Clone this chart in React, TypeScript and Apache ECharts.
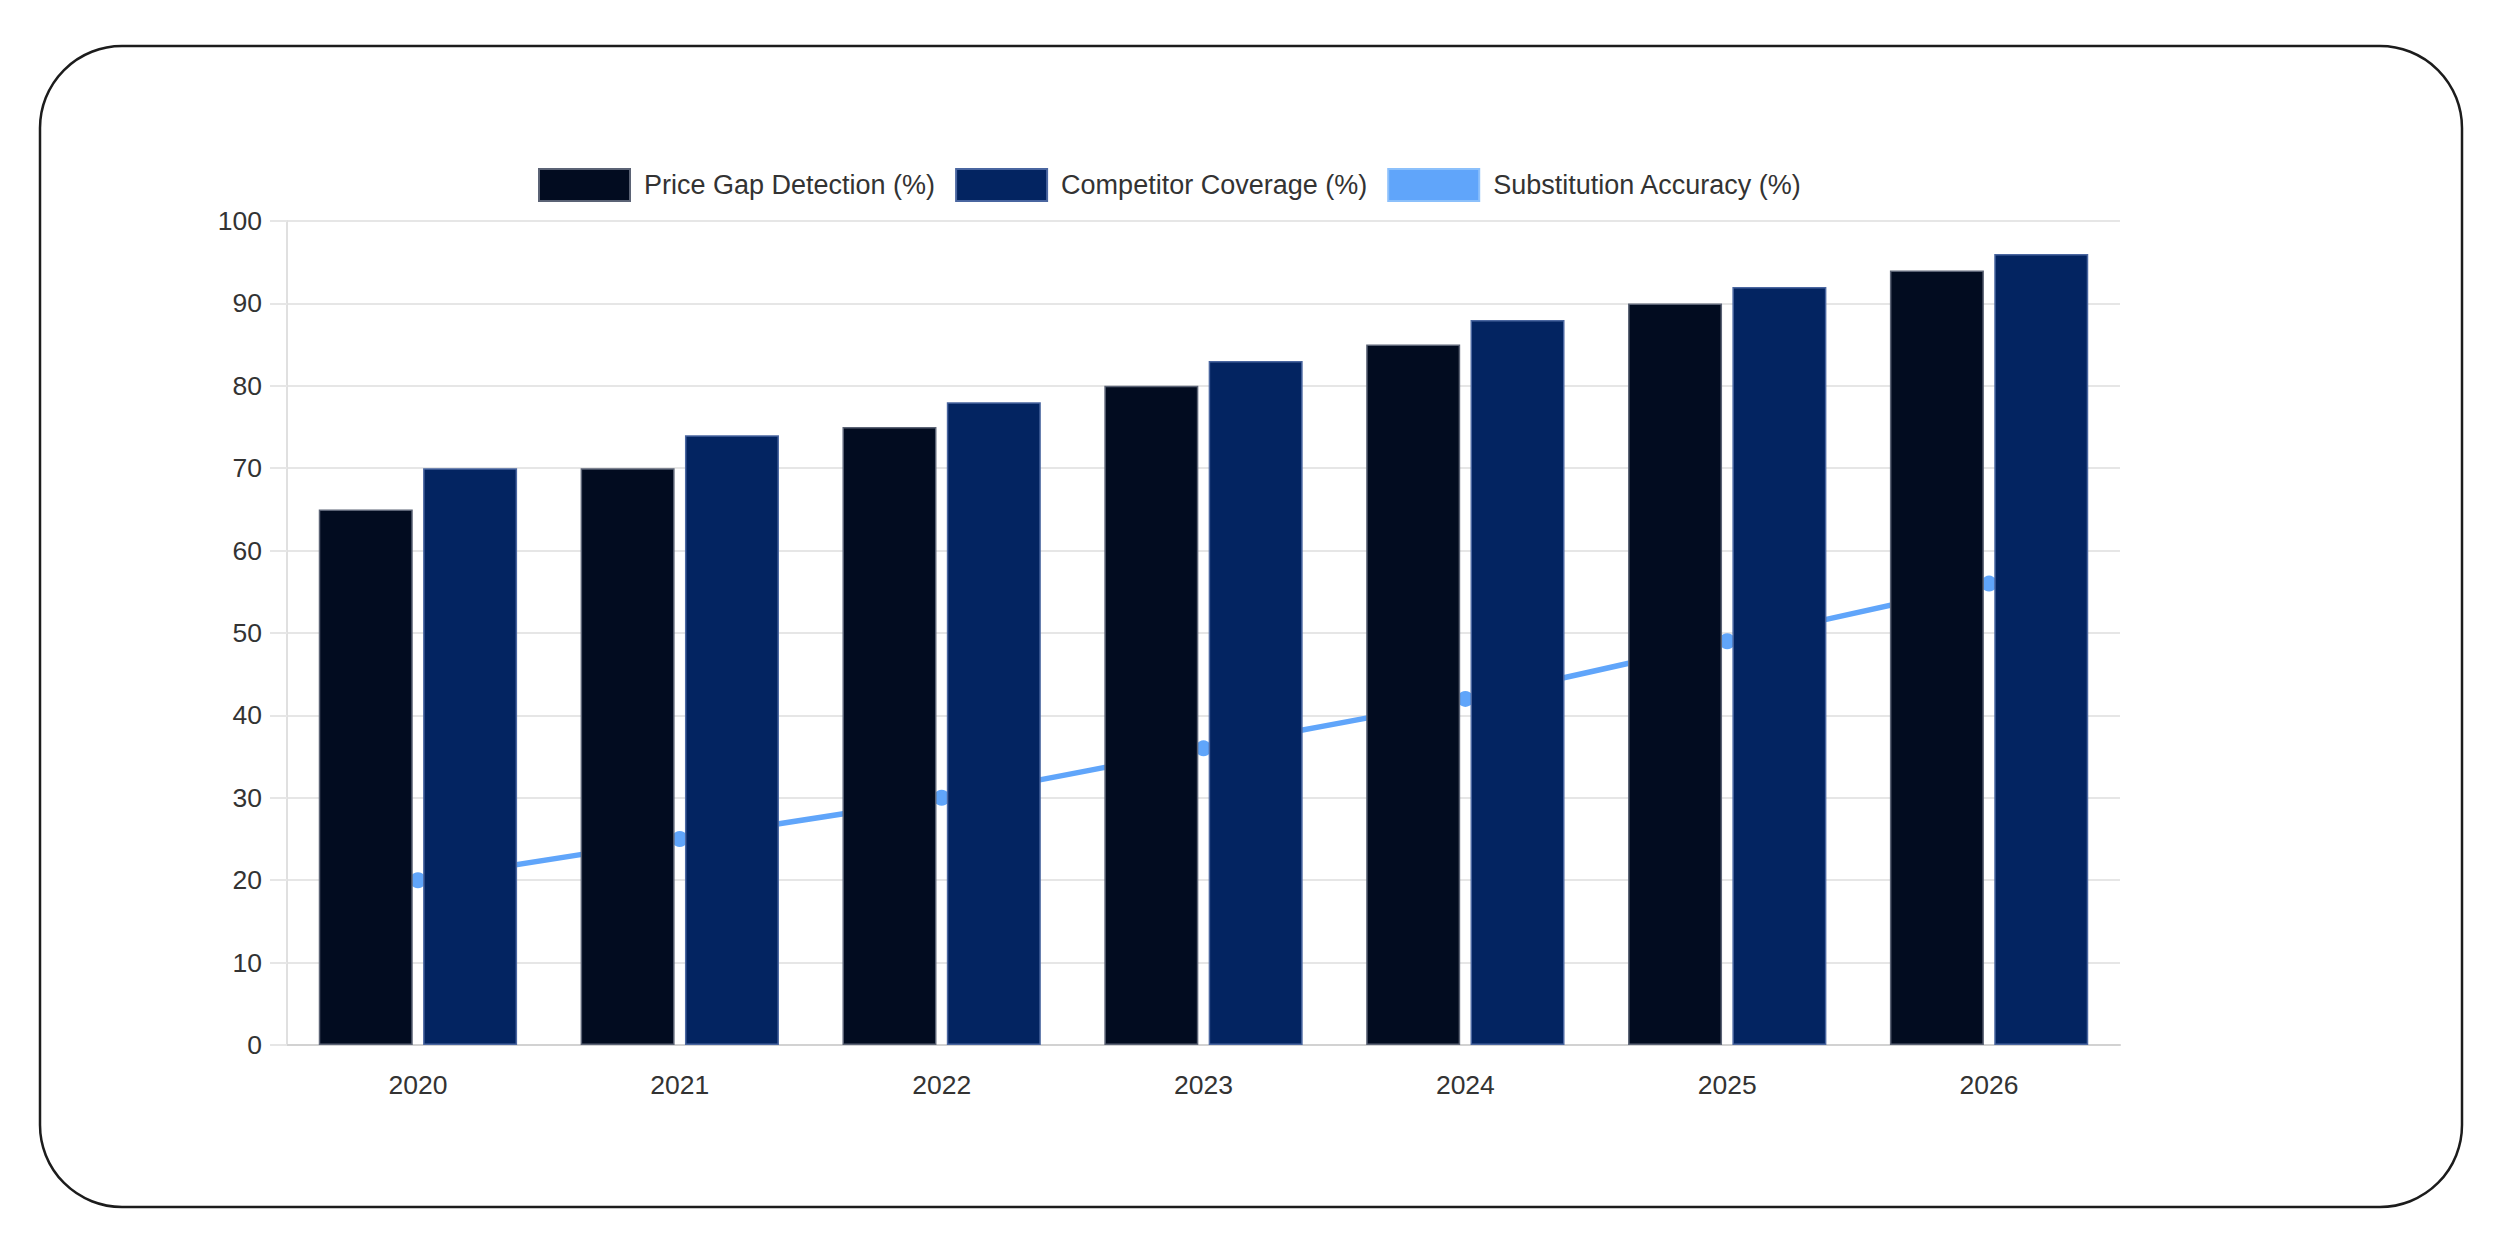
import React, { useEffect, useRef } from "react";
import * as echarts from "echarts";

const years = ["2020", "2021", "2022", "2023", "2024", "2025", "2026"];
const priceGapDetection = [65, 70, 75, 80, 85, 90, 94];
const competitorCoverage = [70, 74, 78, 83, 88, 92, 96];
const substitutionAccuracy = [20, 25, 30, 36, 42, 49, 56];

const FONT = "'Liberation Sans', Arial, sans-serif";
const TEXT = "#333333";
const GRID = "#e6e6e6";

export default function App() {
  const ref = useRef<HTMLDivElement>(null);

  useEffect(() => {
    if (!ref.current) return;
    const chart = echarts.init(ref.current, undefined, { renderer: "svg" });
    chart.setOption({
      animation: false,
      backgroundColor: "#ffffff",
      textStyle: { fontFamily: FONT },
      graphic: [
        {
          type: "rect",
          z: -10,
          shape: { x: 40, y: 46, width: 2422, height: 1161, r: 82 },
          style: { fill: "#ffffff", stroke: "#1c1c1c", lineWidth: 2.5 },
          silent: true,
        },
      ],
      legend: {
        left: 533,
        top: 163,
        itemWidth: 91,
        itemHeight: 32,
        itemGap: 20,
        textStyle: {
          fontFamily: FONT,
          fontSize: 27,
          color: TEXT,
          padding: [0, 0, 0, 9],
        },
        data: [
          {
            name: "Price Gap Detection (%)",
            icon: "rect",
            itemStyle: { color: "#020c20", borderColor: "#5b6375", borderWidth: 2 },
          },
          {
            name: "Competitor Coverage (%)",
            icon: "rect",
            itemStyle: { color: "#032461", borderColor: "#4a66a0", borderWidth: 2 },
          },
          {
            name: "Substitution Accuracy (%)",
            icon: "rect",
            itemStyle: { color: "#60a5fa", borderColor: "#8cc0fb", borderWidth: 2 },
          },
        ],
      },
      grid: { left: 287, top: 221, width: 1833, height: 824, containLabel: false },
      xAxis: {
        type: "category",
        data: years,
        boundaryGap: true,
        axisLine: { show: true, lineStyle: { color: "#d2d2d2", width: 2 } },
        axisTick: { show: false },
        axisLabel: { fontFamily: FONT, fontSize: 26.5, color: TEXT, margin: 26 },
        splitLine: { show: false },
      },
      yAxis: {
        type: "value",
        min: 0,
        max: 100,
        interval: 10,
        axisLine: { show: true, lineStyle: { color: "#e0e0e0", width: 2 } },
        axisTick: { show: true, length: 17, lineStyle: { color: GRID, width: 2 } },
        axisLabel: { fontFamily: FONT, fontSize: 26.5, color: TEXT, margin: 25 },
        splitLine: { show: true, lineStyle: { color: GRID, width: 2 } },
      },
      series: [
        {
          name: "Price Gap Detection (%)",
          type: "bar",
          data: priceGapDetection,
          barWidth: 94,
          barGap: "11%",
          z: 3,
          itemStyle: { color: "#020c20", borderColor: "#5b6375", borderWidth: 1.5 },
        },
        {
          name: "Competitor Coverage (%)",
          type: "bar",
          data: competitorCoverage,
          barWidth: 94,
          barGap: "11%",
          z: 3,
          itemStyle: { color: "#032461", borderColor: "#4a66a0", borderWidth: 1.5 },
        },
        {
          name: "Substitution Accuracy (%)",
          type: "line",
          data: substitutionAccuracy,
          z: 1,
          smooth: 0.35,
          symbol: "circle",
          symbolSize: 16,
          showSymbol: true,
          lineStyle: { color: "#60a5fa", width: 5.5 },
          itemStyle: { color: "#60a5fa" },
        },
      ],
    });
    return () => chart.dispose();
  }, []);

  return (
    <div
      ref={ref}
      style={{ position: "fixed", left: 0, top: 0, width: 2497, height: 1240, background: "#ffffff" }}
    />
  );
}
